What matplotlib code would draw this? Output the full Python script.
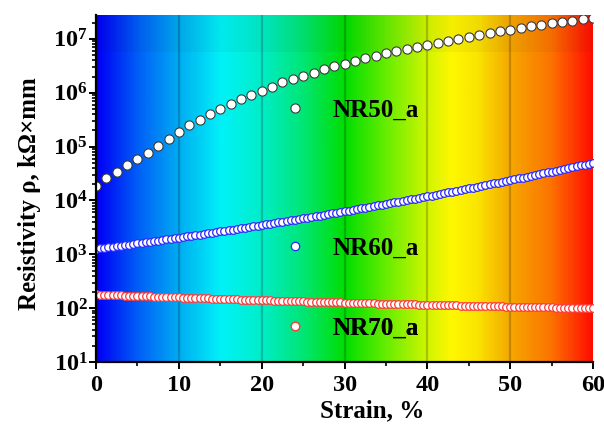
import matplotlib
matplotlib.use("Agg")
import matplotlib.pyplot as plt
import numpy as np
from matplotlib.colors import LinearSegmentedColormap
from matplotlib.ticker import LogLocator, FixedLocator, LogFormatterMathtext

# ---------------- data ----------------
strain_nr50 = [0, 1.25, 2.5, 3.75, 5, 6.25, 7.5, 8.75, 10, 11.25, 12.5, 13.75, 15, 16.25,
               17.5, 18.75, 20, 21.25, 22.5, 23.75, 25, 26.25, 27.5, 28.75, 30, 31.25,
               32.5, 33.75, 35, 36.25, 37.5, 38.75, 40, 41.25, 42.5, 43.75, 45, 46.25,
               47.5, 48.75, 50, 51.25, 52.5, 53.75, 55, 56.25, 57.5, 58.75, 60]
rho_nr50 = [1.86e4, 2.57e4, 3.39e4, 4.57e4, 5.89e4, 7.76e4, 1.02e5, 1.41e5, 1.86e5, 2.51e5,
            3.09e5, 4.07e5, 5.01e5, 6.17e5, 7.59e5, 9.12e5, 1.10e6, 1.29e6, 1.55e6, 1.78e6,
            2.09e6, 2.34e6, 2.75e6, 3.09e6, 3.47e6, 3.89e6, 4.37e6, 4.90e6, 5.37e6, 6.03e6,
            6.61e6, 7.08e6, 7.76e6, 8.51e6, 9.33e6, 1.00e7, 1.10e7, 1.20e7, 1.29e7, 1.38e7,
            1.48e7, 1.58e7, 1.70e7, 1.82e7, 1.95e7, 2.04e7, 2.19e7, 2.29e7, 2.40e7]

strain_fine = [0, 0.5, 1, 1.5, 2, 2.5, 3, 3.5, 4, 4.5, 5, 5.5, 6, 6.5, 7, 7.5, 8, 8.5, 9, 9.5,
               10, 10.5, 11, 11.5, 12, 12.5, 13, 13.5, 14, 14.5, 15, 15.5, 16, 16.5, 17, 17.5,
               18, 18.5, 19, 19.5, 20, 20.5, 21, 21.5, 22, 22.5, 23, 23.5, 24, 24.5, 25, 25.5,
               26, 26.5, 27, 27.5, 28, 28.5, 29, 29.5, 30, 30.5, 31, 31.5, 32, 32.5, 33, 33.5,
               34, 34.5, 35, 35.5, 36, 36.5, 37, 37.5, 38, 38.5, 39, 39.5, 40, 40.5, 41, 41.5,
               42, 42.5, 43, 43.5, 44, 44.5, 45, 45.5, 46, 46.5, 47, 47.5, 48, 48.5, 49, 49.5,
               50, 50.5, 51, 51.5, 52, 52.5, 53, 53.5, 54, 54.5, 55, 55.5, 56, 56.5, 57, 57.5,
               58, 58.5, 59, 59.5, 60]
rho_nr60 = [1259, 1288, 1319, 1350, 1382, 1415, 1449, 1484, 1520, 1557,
            1595, 1635, 1675, 1717, 1760, 1804, 1850, 1897, 1945, 1995,
            2047, 2100, 2155, 2212, 2270, 2330, 2392, 2456, 2522, 2590,
            2661, 2734, 2808, 2885, 2966, 3048, 3134, 3221, 3312, 3406,
            3503, 3604, 3707, 3813, 3924, 4039, 4156, 4279, 4405, 4535,
            4671, 4811, 4955, 5105, 5259, 5419, 5585, 5757, 5935, 6118,
            6308, 6506, 6710, 6920, 7140, 7366, 7602, 7846, 8097, 8358,
            8630, 8911, 9203, 9504, 9818, 10140, 10479, 10827, 11190, 11567,
            11957, 12363, 12783, 13220, 13672, 14142, 14630, 15136, 15665, 16211,
            16782, 17370, 17986, 18621, 19286, 19971, 20689, 21434, 22209, 23015,
            23852, 24725, 25628, 26573, 27549, 28572, 29636, 30742, 31896, 33090,
            34342, 35638, 36993, 38400, 39866, 41402, 42996, 44658, 46391, 48198,
            50072]
rho_nr70 = [179.9, 178.7, 177.5, 176.4, 175.2, 174.0, 172.9, 171.8, 170.7, 169.6,
            168.5, 167.5, 166.4, 165.4, 164.3, 163.3, 162.3, 161.3, 160.3, 159.3,
            158.3, 157.4, 156.5, 155.5, 154.6, 153.7, 152.8, 151.9, 151.0, 150.1,
            149.2, 148.4, 147.5, 146.7, 145.9, 145.0, 144.2, 143.4, 142.6, 141.8,
            141.1, 140.3, 139.5, 138.8, 138.0, 137.3, 136.6, 135.9, 135.1, 134.4,
            133.7, 133.1, 132.4, 131.7, 131.0, 130.4, 129.7, 129.1, 128.4, 127.8,
            127.2, 126.6, 125.9, 125.3, 124.8, 124.2, 123.6, 123.0, 122.4, 121.9,
            121.3, 120.8, 120.2, 119.7, 119.1, 118.6, 118.1, 117.6, 117.0, 116.5,
            116.0, 115.6, 115.1, 114.6, 114.1, 113.6, 113.2, 112.7, 112.2, 111.8,
            111.3, 110.9, 110.5, 110.0, 109.6, 109.2, 108.8, 108.4, 108.0, 107.6,
            107.2, 106.8, 106.4, 106.0, 105.6, 105.2, 104.9, 104.5, 104.1, 103.8,
            103.4, 103.1, 102.7, 102.4, 102.1, 101.7, 101.4, 101.1, 100.8, 100.5,
            100.1]

series_labels = ["NR50_a", "NR60_a", "NR70_a"]
x_ticks = [0, 10, 20, 30, 40, 50, 60]
grid_lines = [10, 20, 30, 40, 50]

# ---------------- style ----------------
plt.rcParams['font.family'] = ['Liberation Serif', 'DejaVu Serif']
plt.rcParams['font.weight'] = 'bold'
plt.rcParams['mathtext.fontset'] = 'custom'
plt.rcParams['mathtext.rm'] = 'Liberation Serif:bold'
plt.rcParams['mathtext.it'] = 'Liberation Serif:bold'
plt.rcParams['mathtext.bf'] = 'Liberation Serif:bold'

fig = plt.figure(figsize=(6.04, 4.25), dpi=100)
ax = fig.add_axes([0.159, 0.148, 0.823, 0.817])

ymin, ymax = 10, 2.79e7
xmin, xmax = 0, 60

# background spectrum gradient
cmap = LinearSegmentedColormap.from_list("spec", [
    (0.0, (0.0, 0.0, 0.96)),
    (5/60, (0.0, 0.38, 0.97)),
    (10/60, (0.0, 0.68, 0.95)),
    (15/60, (0.0, 0.95, 0.97)),
    (20/60, (0.0, 0.93, 0.78)),
    (25/60, (0.0, 0.90, 0.45)),
    (30/60, (0.0, 0.87, 0.0)),
    (35/60, (0.40, 0.93, 0.0)),
    (40/60, (0.82, 0.96, 0.0)),
    (43/60, (1.0, 0.97, 0.0)),
    (46/60, (0.98, 0.90, 0.0)),
    (50/60, (0.96, 0.66, 0.0)),
    (55/60, (0.99, 0.45, 0.0)),
    (1.0, (1.0, 0.05, 0.0)),
])
grad = np.linspace(0, 1, 600).reshape(1, -1)
ax.imshow(grad, cmap=cmap, aspect='auto', extent=[xmin, xmax, ymin, ymax],
          origin='lower', zorder=0, interpolation='bilinear')
ax.axhspan(5.7e6, ymax, color='black', alpha=0.035, lw=0, zorder=0.5)

for gx in grid_lines:
    ax.axvline(gx, color='black', alpha=0.2, lw=1.6, zorder=1)

l50, = ax.plot(strain_nr50, rho_nr50, 'o', ms=6.6, mfc='white', mec='#3a3a3a', mew=0.8,
               zorder=3, label=series_labels[0])
l60, = ax.plot(strain_fine, rho_nr60, 'o', ms=5.5, mfc='white', mec='#2a2aff', mew=0.9,
               zorder=3, label=series_labels[1])
l70, = ax.plot(strain_fine, rho_nr70, 'o', ms=5.5, mfc='white', mec='#ff3a3a', mew=0.9,
               zorder=3, label=series_labels[2])

ax.set_yscale('log')
ax.set_xlim(xmin, xmax)
ax.set_ylim(ymin, ymax)

ax.xaxis.set_major_locator(FixedLocator(x_ticks))
ax.xaxis.set_minor_locator(FixedLocator([5, 15, 25, 35, 45, 55]))
ax.yaxis.set_major_locator(LogLocator(base=10, numticks=20))
ax.yaxis.set_minor_locator(LogLocator(base=10, subs=np.arange(2, 10), numticks=20))
ax.yaxis.set_major_formatter(LogFormatterMathtext())

for s in ['top', 'right']:
    ax.spines[s].set_visible(False)
for s in ['left', 'bottom']:
    ax.spines[s].set_linewidth(1.6)
    ax.spines[s].set_zorder(5)

ax.tick_params(axis='both', which='major', direction='out', length=5, width=1.4,
               labelsize=17.5, pad=2)
ax.tick_params(axis='both', which='minor', direction='out', length=3, width=1.2)
ax.tick_params(axis='y', which='major', pad=1)
ax.tick_params(axis='x', which='major', pad=4)
for lab in ax.get_xticklabels() + ax.get_yticklabels():
    lab.set_fontweight('bold')

ax.set_xlabel("Strain, %", fontsize=18, fontweight='bold')
ax.xaxis.set_label_coords(0.555, -0.141)
ax.xaxis.label.set_verticalalignment('center')
ax.set_ylabel("Resistivity ρ, kΩ×mm", fontsize=18, fontweight='bold')
ax.yaxis.set_label_coords(-0.133, 0.484)
ax.yaxis.label.set_verticalalignment('center')

legend_pos = [(0.375, 0.726), (0.375, 0.329), (0.375, 0.098)]
scales = [1.0, 1.1, 1.1]
for h, lab, pos, sc in zip([l50, l60, l70], series_labels, legend_pos, scales):
    lg = ax.legend([h], [lab], loc='center left', bbox_to_anchor=pos, frameon=False,
                   borderpad=0, borderaxespad=0, handlelength=1.0, handletextpad=1.0,
                   markerscale=sc, prop={'family': 'Liberation Serif', 'weight': 'bold',
                                         'size': 18})
    ax.add_artist(lg)

fig.savefig("out.png", dpi=100)
